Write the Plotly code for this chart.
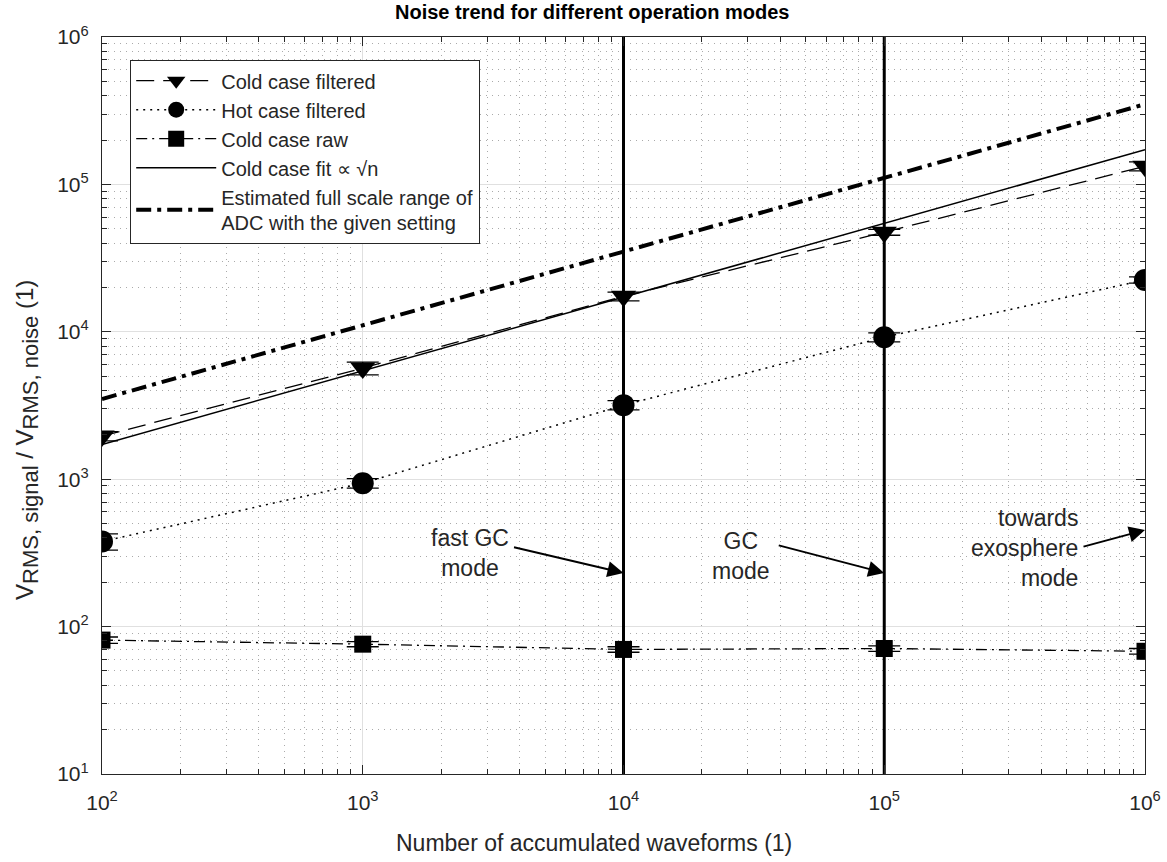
import plotly.graph_objects as go

# ---------------- data ----------------
n_waveforms = [1e2, 1e3, 1e4, 1e5, 1e6]

cold_filtered = [1960, 5670, 17400, 47400, 132800]
cold_filtered_err = [140, 560, 1200, 2200, 9300]

hot_filtered = [378, 940, 3180, 9190, 22500]
hot_filtered_err = [48, 70, 230, 650, 1100]

cold_raw = [81, 76, 70, 71, 68]
cold_raw_err = [4, 3, 3, 3, 3]

cold_fit = [1720, 5440, 17200, 54400, 172000]
full_scale = [3500, 11070, 35000, 110700, 350000]

mode_lines_x = [1e4, 1e5]

x_tickvals = [1e2, 1e3, 1e4, 1e5, 1e6]
x_ticktext = ["10<sup>2</sup>", "10<sup>3</sup>", "10<sup>4</sup>", "10<sup>5</sup>", "10<sup>6</sup>"]
y_tickvals = [1e1, 1e2, 1e3, 1e4, 1e5, 1e6]
y_ticktext = ["10<sup>1</sup>", "10<sup>2</sup>", "10<sup>3</sup>", "10<sup>4</sup>", "10<sup>5</sup>", "10<sup>6</sup>"]

FONT = "Liberation Sans, Arial, Helvetica, sans-serif"
TXT = "#262626"

fig = go.Figure()

# vertical mode lines
for xv in mode_lines_x:
    fig.add_trace(go.Scatter(x=[xv, xv], y=[10, 1e6], mode="lines",
                             line=dict(color="black", width=3),
                             showlegend=False, hoverinfo="skip"))

fig.add_trace(go.Scatter(
    x=n_waveforms, y=cold_filtered, name="Cold case filtered",
    mode="lines+markers",
    line=dict(color="black", width=1.3, dash="18px,9px"),
    marker=dict(symbol="triangle-down", size=22, color="black"),
    error_y=dict(type="data", array=cold_filtered_err, color="black", thickness=1.3, width=16),
))
fig.add_trace(go.Scatter(
    x=n_waveforms, y=hot_filtered, name="Hot case filtered",
    mode="lines+markers",
    line=dict(color="black", width=1.5, dash="2px,5px"),
    marker=dict(symbol="circle", size=22, color="black"),
    error_y=dict(type="data", array=hot_filtered_err, color="black", thickness=1.3, width=16),
))
fig.add_trace(go.Scatter(
    x=n_waveforms, y=cold_raw, name="Cold case raw",
    mode="lines+markers",
    line=dict(color="black", width=1.3, dash="11px,5px,2px,5px"),
    marker=dict(symbol="square", size=17, color="black"),
    error_y=dict(type="data", array=cold_raw_err, color="black", thickness=1.3, width=16),
))
fig.add_trace(go.Scatter(
    x=n_waveforms, y=cold_fit, name="Cold case fit \u221d \u221an",
    mode="lines",
    line=dict(color="black", width=1.5),
))
fig.add_trace(go.Scatter(
    x=n_waveforms, y=full_scale,
    name="Estimated full scale range of<br>ADC with the given setting",
    mode="lines",
    line=dict(color="black", width=4, dash="15px,6px,4px,6px"),
))

# plot-area pixel geometry
W, H = 1167, 862
L, R, T, B = 102, 1145, 37, 774
def px(xp):
    return (xp - L) / (R - L)
def py(yp):
    return (B - yp) / (B - T)

annots = []
# arrows (tips in data coords, log units)
arrow_specs = [
    (4.0, 2.364, -111, -26),
    (5.0, 2.364, -107, -28),
    (6.0, 2.655, -63, 17),
]
for ax_, ay_, dx, dy in arrow_specs:
    annots.append(dict(x=ax_, y=ay_, xref="x", yref="y", text="", showarrow=True,
                       ax=dx, ay=dy, arrowhead=2, arrowsize=1.6, arrowwidth=2,
                       arrowcolor="black"))

text_specs = [
    ("fast GC<br>mode", 470, 553, "center"),
    ("GC<br>mode", 741, 556, "center"),
    ("towards<br>exosphere<br>mode", 1080, 548, "right"),
]
for t, xp, yp, al in text_specs:
    annots.append(dict(x=px(xp), y=py(yp), xref="paper", yref="paper", text=t,
                       showarrow=False, align=al,
                       xanchor="center" if al == "center" else "right",
                       yanchor="middle", font=dict(size=23, color=TXT, family=FONT)))

# title, axis titles
annots.append(dict(x=px(592), y=py(12), xref="paper", yref="paper",
                   text="<b>Noise trend for different operation modes</b>",
                   showarrow=False, xanchor="center", yanchor="middle",
                   font=dict(size=20, color="black", family=FONT)))
annots.append(dict(x=px(594), y=py(843), xref="paper", yref="paper",
                   text="Number of accumulated waveforms (1)",
                   showarrow=False, xanchor="center", yanchor="middle",
                   font=dict(size=23, color=TXT, family=FONT)))
ylab = ("V<sub><span style='font-size:22px'>RMS, signal</span></sub> / "
        "V<sub><span style='font-size:22px'>RMS, noise</span></sub> (1)")
annots.append(dict(x=px(27), y=py(440), xref="paper", yref="paper",
                   text=ylab, textangle=-90,
                   showarrow=False, xanchor="center", yanchor="middle",
                   font=dict(size=24, color=TXT, family=FONT)))

axis_common = dict(
    type="log", showline=True, linecolor=TXT, linewidth=1.2, mirror="allticks",
    ticks="inside", ticklen=9, tickcolor=TXT, tickwidth=1.2,
    showgrid=True, gridcolor="#e0e0e0", gridwidth=1.3,
    zeroline=False, automargin=False,
    tickfont=dict(size=21, color=TXT, family=FONT),
    minor=dict(ticks="inside", ticklen=5, tickcolor=TXT, dtick="D1",
               showgrid=True, gridcolor="#aaaaaa", griddash="1px,5px", gridwidth=1),
)

fig.update_layout(
    width=W, height=H,
    margin=dict(l=L, r=W - R, t=T, b=H - B),
    paper_bgcolor="white", plot_bgcolor="white",
    font=dict(family=FONT, color=TXT),
    xaxis=dict(axis_common, range=[2, 6], tickvals=x_tickvals, ticktext=x_ticktext,
               ticklabelstandoff=10),
    yaxis=dict(axis_common, range=[1, 6], tickvals=y_tickvals, ticktext=y_ticktext,
               ticklabelstandoff=8),
    legend=dict(x=px(130), y=py(60), xanchor="left", yanchor="top",
                bgcolor="white", bordercolor=TXT, borderwidth=1.2,
                font=dict(size=20, color=TXT, family=FONT),
                itemwidth=80, tracegroupgap=2),
    annotations=annots,
    showlegend=True,
)

fig.write_html("out.html", config={"displayModeBar": False},
               post_script="document.body.style.margin='0';document.body.style.padding='0';")
